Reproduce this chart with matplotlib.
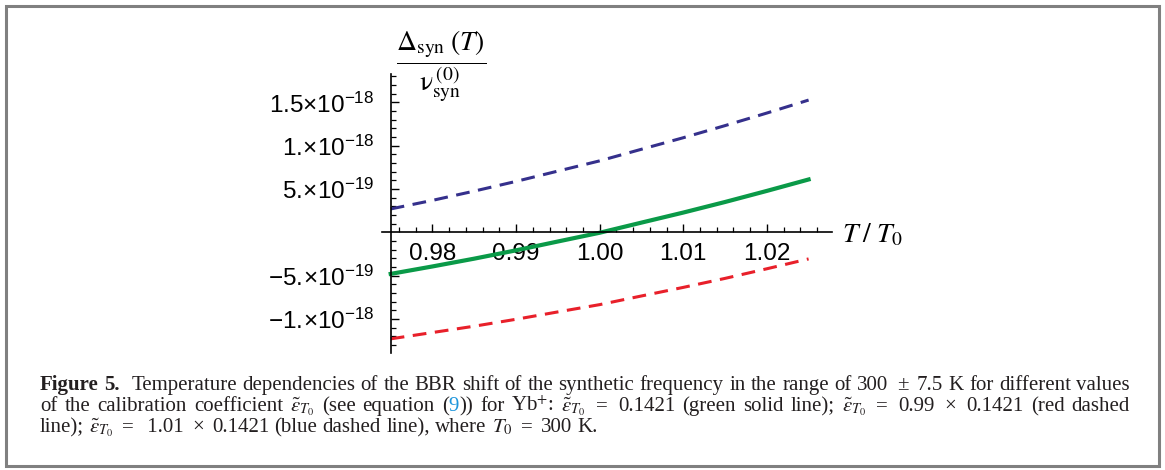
import matplotlib
matplotlib.use("Agg")
import matplotlib.pyplot as plt
from matplotlib.ticker import FixedLocator, FixedFormatter
from matplotlib.patches import Rectangle

# ---------------- data ----------------
t_ratio = [0.975, 0.980, 0.985, 0.990, 0.995, 1.000, 1.005, 1.010, 1.015, 1.020, 1.025]
green_e19 = [-4.80, -3.94, -3.04, -2.08, -1.06, -0.05, 1.12, 2.28, 3.50, 4.78, 6.10]
blue_e19 = [2.70, 3.69, 4.76, 5.88, 7.07, 8.25, 9.59, 10.92, 12.32, 13.77, 15.27]
red_e19 = [-12.30, -11.57, -10.84, -10.04, -9.19, -8.35, -7.35, -6.36, -5.32, -4.21, -3.07]

xtick_vals = [0.98, 0.99, 1.00, 1.01, 1.02]
xtick_labels = ["0.98", "0.99", "1.00", "1.01", "1.02"]
ytick_vals = [-1e-18, -5e-19, 5e-19, 1e-18, 1.5e-18]
ytick_labels = [r"$-1.\!{\times}10^{-18}$", r"$-5.\!{\times}10^{-19}$",
                r"$5.\!{\times}10^{-19}$", r"$1.\!{\times}10^{-18}$",
                r"$1.5{\times}10^{-18}$"]

green = [v * 1e-19 for v in green_e19]
blue = [v * 1e-19 for v in blue_e19]
red = [v * 1e-19 for v in red_e19]

# ---------------- figure ----------------
W, H = 1165, 470
plt.rcParams["mathtext.fontset"] = "custom"
plt.rcParams["mathtext.rm"] = "Liberation Sans"
plt.rcParams["mathtext.it"] = "Liberation Sans:italic"
plt.rcParams["mathtext.bf"] = "Liberation Sans:bold"
plt.rcParams["font.family"] = ["Liberation Sans", "DejaVu Sans"]

fig = plt.figure(figsize=(W / 100, H / 100), dpi=100)
fig.patch.set_facecolor("white")

def px(x0, y0, x1, y1):
    return [x0 / W, 1 - y1 / H, (x1 - x0) / W, (y1 - y0) / H]

ax = fig.add_axes(px(382.35, 74, 832, 352.7))
ax.set_facecolor("none")
ax.set_xlim(0.974, 1.0278)
ax.set_ylim(-1.39e-18, 1.828e-18)

ax.plot(t_ratio, blue, color="#35308C", lw=2.2, dashes=(4.5, 2.8))
ax.plot(t_ratio, red, color="#E8202A", lw=2.2, dashes=(4.5, 2.8))
ax.plot(t_ratio, green, color="#0A9A48", lw=3.0)

for s in ["top", "right"]:
    ax.spines[s].set_visible(False)
ax.spines["left"].set_position(("data", 0.975))
ax.spines["bottom"].set_position(("data", 0.0))
for s in ["left", "bottom"]:
    ax.spines[s].set_linewidth(1.2)
    ax.spines[s].set_color("black")

ax.xaxis.set_major_locator(FixedLocator(xtick_vals))
ax.xaxis.set_major_formatter(FixedFormatter(xtick_labels))
xminor = [round(0.976 + 0.002 * i, 3) for i in range(26)]
xminor = [v for v in xminor if v <= 1.027 and all(abs(v - m) > 1e-6 for m in xtick_vals)]
ax.xaxis.set_minor_locator(FixedLocator(xminor))
ax.yaxis.set_major_locator(FixedLocator(ytick_vals))
ax.yaxis.set_major_formatter(FixedFormatter(ytick_labels))
yminor = [i * 1e-19 for i in range(-13, 19) if i % 5 != 0]
ax.yaxis.set_minor_locator(FixedLocator(yminor))

ax.tick_params(axis="x", which="major", direction="in", length=6, width=1.0, pad=8, labelsize=17.5)
ax.tick_params(axis="x", which="minor", direction="in", length=3.5, width=0.9)
ax.tick_params(axis="y", which="major", direction="in", length=6, width=1.0, pad=12, labelsize=17.5)
ax.tick_params(axis="y", which="minor", direction="in", length=3.5, width=0.9)

# axis labels (positioned like Mathematica's)
fig.text(441 / W, 1 - 66 / H,
         r"$\dfrac{\Delta_{\mathrm{syn}}\;(T)}{\mathrm{ν}_{\mathrm{syn}}^{\;(0)}}$",
         ha="center", va="center", fontsize=20, math_fontfamily="stix")
fig.text(842 / W, 1 - 242 / H, r"$T\;/\;T_0$", ha="left", va="baseline",
         fontsize=20, math_fontfamily="stix")

# ---------------- caption ----------------
fig.canvas.draw()
renderer = fig.canvas.get_renderer()
CAP_FS = 15
BLACK = "#231F20"
LINK = "#1E96DC"
EPS = r"$\tilde{\varepsilon}_{T_0}$"
PADDED = {"=", "\u00d7", "\u00b1"}
OP_PAD = 3.0

def w(s, color=BLACK, weight="normal"):
    return [(s, color, weight)]

line1 = [[("Figure", BLACK, "bold")], [("5.", BLACK, "bold")]] + \
    [w(s) for s in ["Temperature", "dependencies", "of", "the", "BBR", "shift", "of", "the",
                    "synthetic", "frequency", "in", "the", "range", "of", "300", "\u00b1",
                    "7.5", "K", "for", "different", "values"]]
line2 = [w(s) for s in ["of", "the", "calibration", "coefficient", EPS, "(see", "equation"]] + \
    [[("(", BLACK, "normal"), ("9", LINK, "normal"), ("))", BLACK, "normal")]] + \
    [w(s) for s in ["for", r"Yb$^{+}$:", EPS, "=", "0.1421", "(green", "solid", "line);",
                    EPS, "=", "0.99", "\u00d7", "0.1421", "(red", "dashed"]]
line3 = [w(s) for s in ["line);", EPS, "=", " 1.01", "\u00d7", "0.1421", "(blue", "dashed",
                        "line),", "where", r"$T_0$", "=", "300", "K."]]

def make_word(word):
    texts = []
    for s, c, wt in word:
        t = fig.text(0, 0, s, color=c, fontweight=wt, fontsize=CAP_FS,
                     family="Liberation Serif", math_fontfamily="stix",
                     va="baseline", ha="left")
        texts.append(t)
    widths = [t.get_window_extent(renderer).width for t in texts]
    pad = OP_PAD if (len(word) == 1 and word[0][0] in PADDED) else 0.0
    return texts, widths, pad

space_w = fig.text(0, 0, "a a", fontsize=CAP_FS, family="Liberation Serif")
sw = space_w.get_window_extent(renderer).width
aa = fig.text(0, 0, "aa", fontsize=CAP_FS, family="Liberation Serif")
sw -= aa.get_window_extent(renderer).width
space_w.remove(); aa.remove()

def place_line(words, x0, ybase, x1=None, extra_after_first=0.0):
    made = [make_word(wd) for wd in words]
    total = sum(sum(ws) + 2 * p for _, ws, p in made)
    n = len(made)
    if x1 is not None:
        gap = (x1 - x0 - total - extra_after_first) / (n - 1)
    else:
        gap = sw
    x = x0
    for i, (texts, ws, p) in enumerate(made):
        x += p
        for t, wdt in zip(texts, ws):
            t.set_position((x / W, 1 - ybase / H))
            x += wdt
        x += p + gap
        if i == 1:
            x += extra_after_first

place_line(line1, 40, 390, 1130, extra_after_first=6)
place_line(line2, 40, 411, 1130)
place_line(line3, 40, 432)

# frame around the figure
fig.add_artist(Rectangle((6 / W, 1 - 466 / H), (1159 - 6) / W, (466 - 6) / H,
                         transform=fig.transFigure, fill=False,
                         edgecolor="#808080", linewidth=2.2))

fig.savefig("out.png", dpi=100, facecolor="white")
